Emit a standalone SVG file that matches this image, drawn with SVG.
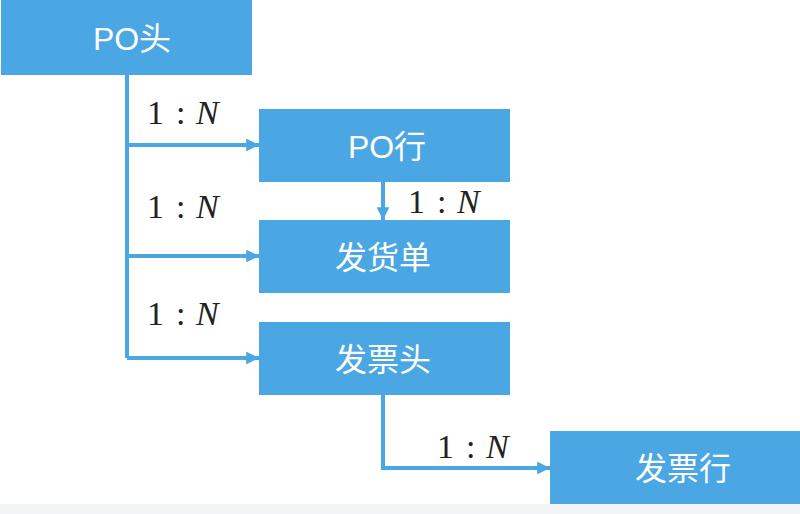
<svg xmlns="http://www.w3.org/2000/svg" width="800" height="514" viewBox="0 0 800 514">
<style>
.box{fill:#4BA7E4}
.bt{fill:#fff;font-family:"Liberation Sans","Noto Sans CJK SC",sans-serif;font-size:32px;text-anchor:middle}
.ln{stroke:#4BA7E4;stroke-width:4;fill:none}
.lb{font-family:"Liberation Serif","DejaVu Serif",serif;font-size:34px;fill:#222}
.it{font-style:italic}
</style>
<defs>
<marker id="ah" viewBox="0 0 10 10" refX="10" refY="5" markerWidth="3.2" markerHeight="3.2" markerUnits="strokeWidth" orient="auto">
<path d="M0,0 L10,5 L0,10 z" fill="#4BA7E4"/>
</marker>
</defs>
<rect x="0" y="0" width="800" height="514" fill="#fff"/>
<rect x="0" y="504" width="800" height="10" fill="#F3F4F6"/>
<g id="connectors">
<path class="ln" d="M127,74 V358"/>
<path class="ln" d="M127,145 H259" marker-end="url(#ah)"/>
<path class="ln" d="M127,256 H259" marker-end="url(#ah)"/>
<path class="ln" d="M127,358 H259" marker-end="url(#ah)"/>
<path class="ln" d="M383,182 V220" marker-end="url(#ah)"/>
<path class="ln" d="M383,395 V468 H550" marker-end="url(#ah)"/>
</g>
<g id="labels">
<text class="lb" y="124"><tspan x="147">1</tspan><tspan x="176">:</tspan><tspan x="196" class="it">N</tspan></text>
<text class="lb" y="218"><tspan x="147">1</tspan><tspan x="176">:</tspan><tspan x="196" class="it">N</tspan></text>
<text class="lb" y="325"><tspan x="147">1</tspan><tspan x="176">:</tspan><tspan x="196" class="it">N</tspan></text>
<text class="lb" y="213"><tspan x="408">1</tspan><tspan x="437">:</tspan><tspan x="457" class="it">N</tspan></text>
<text class="lb" y="458"><tspan x="437">1</tspan><tspan x="466">:</tspan><tspan x="486" class="it">N</tspan></text>
</g>
<g id="po-head"><rect class="box" x="1" y="0" width="251" height="75"/><text class="bt" x="132" y="50">PO头</text></g>
<g id="po-line"><rect class="box" x="259" y="109" width="251" height="73"/><text class="bt" x="387" y="158">PO行</text></g>
<g id="delivery"><rect class="box" x="259" y="220" width="251" height="73"/><text class="bt" x="383" y="269">发货单</text></g>
<g id="invoice-head"><rect class="box" x="259" y="322" width="251" height="73"/><text class="bt" x="383" y="371">发票头</text></g>
<g id="invoice-line"><rect class="box" x="550" y="431" width="250" height="73"/><text class="bt" x="683" y="480">发票行</text></g>
</svg>
